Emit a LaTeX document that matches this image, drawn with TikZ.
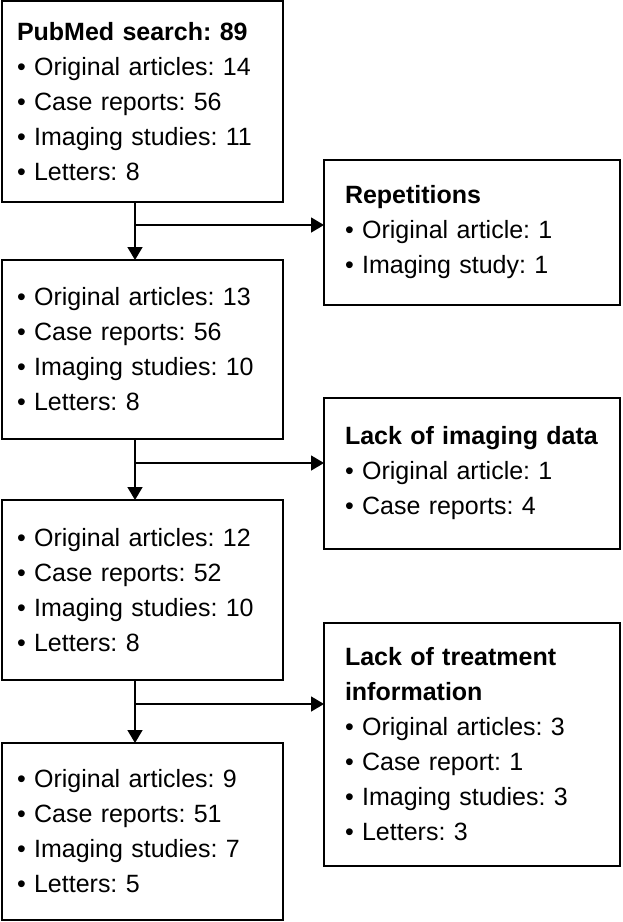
\documentclass[tikz,border=0pt]{standalone}
\usepackage{fontspec}
\setmainfont{Liberation Sans}
\usetikzlibrary{arrows.meta}
\frenchspacing
\begin{document}
\begin{tikzpicture}[x=1pt,y=-1pt,
  box/.style={draw, line width=1.6pt, anchor=north west, align=left,
    font=\fontsize{25}{35}\selectfont\frenchspacing, inner ysep=0pt, outer sep=0pt},
  lbox/.style={box, text width=251pt, inner xsep=15pt},
  rbox/.style={box, text width=254pt, inner xsep=21pt},
  arr/.style={line width=1.5pt, -{Triangle[length=13pt,width=15pt]}}]
\useasboundingbox (0,0) rectangle (622,922);

\node[lbox, minimum height=201pt] (b1) at (2,1)
  {\textbf{PubMed search: 89}\\• Original articles: 14\\• Case reports: 56\\• Imaging studies: 11\\• Letters: 8};
\node[lbox, minimum height=179pt] (b2) at (2,260)
  {• Original articles: 13\\• Case reports: 56\\• Imaging studies: 10\\• Letters: 8};
\node[lbox, minimum height=180pt] (b3) at (2,500)
  {• Original articles: 12\\• Case reports: 52\\• Imaging studies: 10\\• Letters: 8};
\node[lbox, minimum height=177pt] (b4) at (2,743)
  {• Original articles: 9\\• Case reports: 51\\• Imaging studies: 7\\• Letters: 5};

\node[rbox, minimum height=145pt] (r1) at (324,160)
  {\textbf{Repetitions}\\• Original article: 1\\• Imaging study: 1};
\node[rbox, minimum height=151pt] (r2) at (324,398)
  {\textbf{Lack of imaging data}\\• Original article: 1\\• Case reports: 4};
\node[rbox, minimum height=243pt] (r3) at (324,623)
  {\textbf{Lack of treatment}\\\textbf{information}\\• Original articles: 3\\• Case report: 1\\• Imaging studies: 3\\• Letters: 3};

\coordinate (j1) at (135,225);
\coordinate (j2) at (135,463);
\coordinate (j3) at (135,704);

\draw[arr] (b1.south -| j1) -- (b2.north -| j1);
\draw[arr] (j1) -- (r1.west |- j1);
\draw[arr] (b2.south -| j2) -- (b3.north -| j2);
\draw[arr] (j2) -- (r2.west |- j2);
\draw[arr] (b3.south -| j3) -- (b4.north -| j3);
\draw[arr] (j3) -- (r3.west |- j3);
\end{tikzpicture}
\end{document}
